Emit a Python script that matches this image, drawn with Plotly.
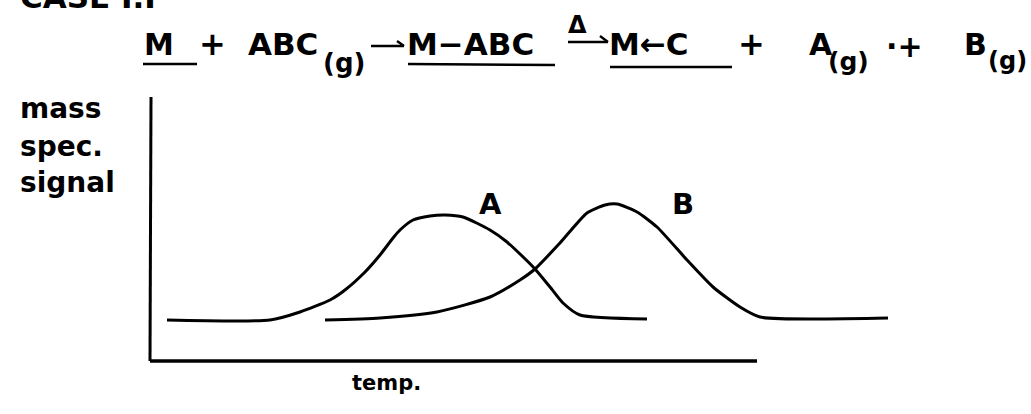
import plotly.graph_objects as go

# ---- data (temperature in arbitrary units, signal in arbitrary units) ----
temp_A = [167, 270, 300, 330, 345, 365, 380, 393, 400, 413, 430, 445, 463, 490, 507, 520, 535, 550, 563, 580, 647]
signal_A = [94, 94, 102, 114, 124, 142, 159, 176, 184, 194, 198, 199, 197, 184, 172, 160, 145, 127, 111, 99, 95]
temp_B = [325, 380, 437, 490, 520, 535, 560, 587, 605, 617, 637, 657, 687, 713, 740, 760, 888]
signal_B = [94, 96, 102, 117, 134, 145, 171, 201, 209, 210, 202, 187, 154, 127, 107, 97, 96]
peak_labels = ["A", "B"]
peak_label_pos = [(490, 204), (683, 204)]

W, H = 1031, 414
FONT = "DejaVu Sans"

fig = go.Figure()
for tx, sy in [(temp_A, signal_A), (temp_B, signal_B)]:
    fig.add_trace(go.Scatter(x=tx, y=sy, mode="lines",
                             line=dict(color="black", width=3, shape="spline", smoothing=0.6),
                             showlegend=False, hoverinfo="skip"))

def Y(py):
    return H - py

shapes = []
def seg(x0, y0, x1, y1, w=2.6):
    shapes.append(dict(type="line", xref="x", yref="y", x0=x0, y0=Y(y0), x1=x1, y1=Y(y1),
                       line=dict(color="black", width=w)))

# axes (hand drawn)
seg(151, 97, 150, 361, 3)
seg(150, 361, 757, 361, 3.4)

# underlines in the equation
seg(143, 64, 197, 64, 2.4)
seg(408, 64, 555, 65, 2.6)
seg(610, 67, 732, 67, 2.4)
# reaction arrow 1
seg(371, 46, 404, 46, 2.4)
seg(397, 41, 404, 46, 2.4)
# heat arrow with delta
seg(568, 42, 608, 42, 2.6)
seg(600, 36, 608, 42, 2.4)

annotations = []
def txt(x, py, s, size, anchor="left", paper=False):
    annotations.append(dict(x=x, y=(H - py) / H if paper else Y(py), xref="x",
                            yref="paper" if paper else "y", text=s, showarrow=False,
                            xanchor=anchor, yanchor="middle",
                            font=dict(family=FONT, size=size, color="black", weight=700)))

txt(18, -3, "CASE I.I", 31, paper=True)
txt(142, 44, "M", 30)
txt(197, 44, "+", 32)
txt(246, 44, "ABC", 31)
txt(321, 63, "(g)", 26)
txt(405, 44, "M−ABC", 31)
txt(566, 25, "Δ", 24)
txt(607, 44, "M←C", 31)
txt(736, 44, "+", 32)
txt(807, 44, "A", 30)
txt(826, 61, "(g)", 25)
txt(884, 46, "·+", 30)
txt(962, 44, "B", 30)
txt(986, 61, "(g)", 24)

txt(18, 108, "mass", 28)
txt(18, 146, "spec.", 28)
txt(18, 182, "signal", 28)
txt(350, 383, "temp.", 21)

for lab, (lx, ly) in zip(peak_labels, peak_label_pos):
    txt(lx, ly, lab, 29, anchor="center")

fig.update_layout(
    width=W, height=H,
    margin=dict(l=0, r=0, t=0, b=0),
    paper_bgcolor="white", plot_bgcolor="white",
    xaxis=dict(range=[0, W], visible=False, fixedrange=True),
    yaxis=dict(range=[0, H], visible=False, fixedrange=True),
    shapes=shapes, annotations=annotations,
)
fig.write_html("out.html", config=dict(displayModeBar=False),
               post_script="document.body.style.margin='0';document.body.style.overflow='hidden';")
